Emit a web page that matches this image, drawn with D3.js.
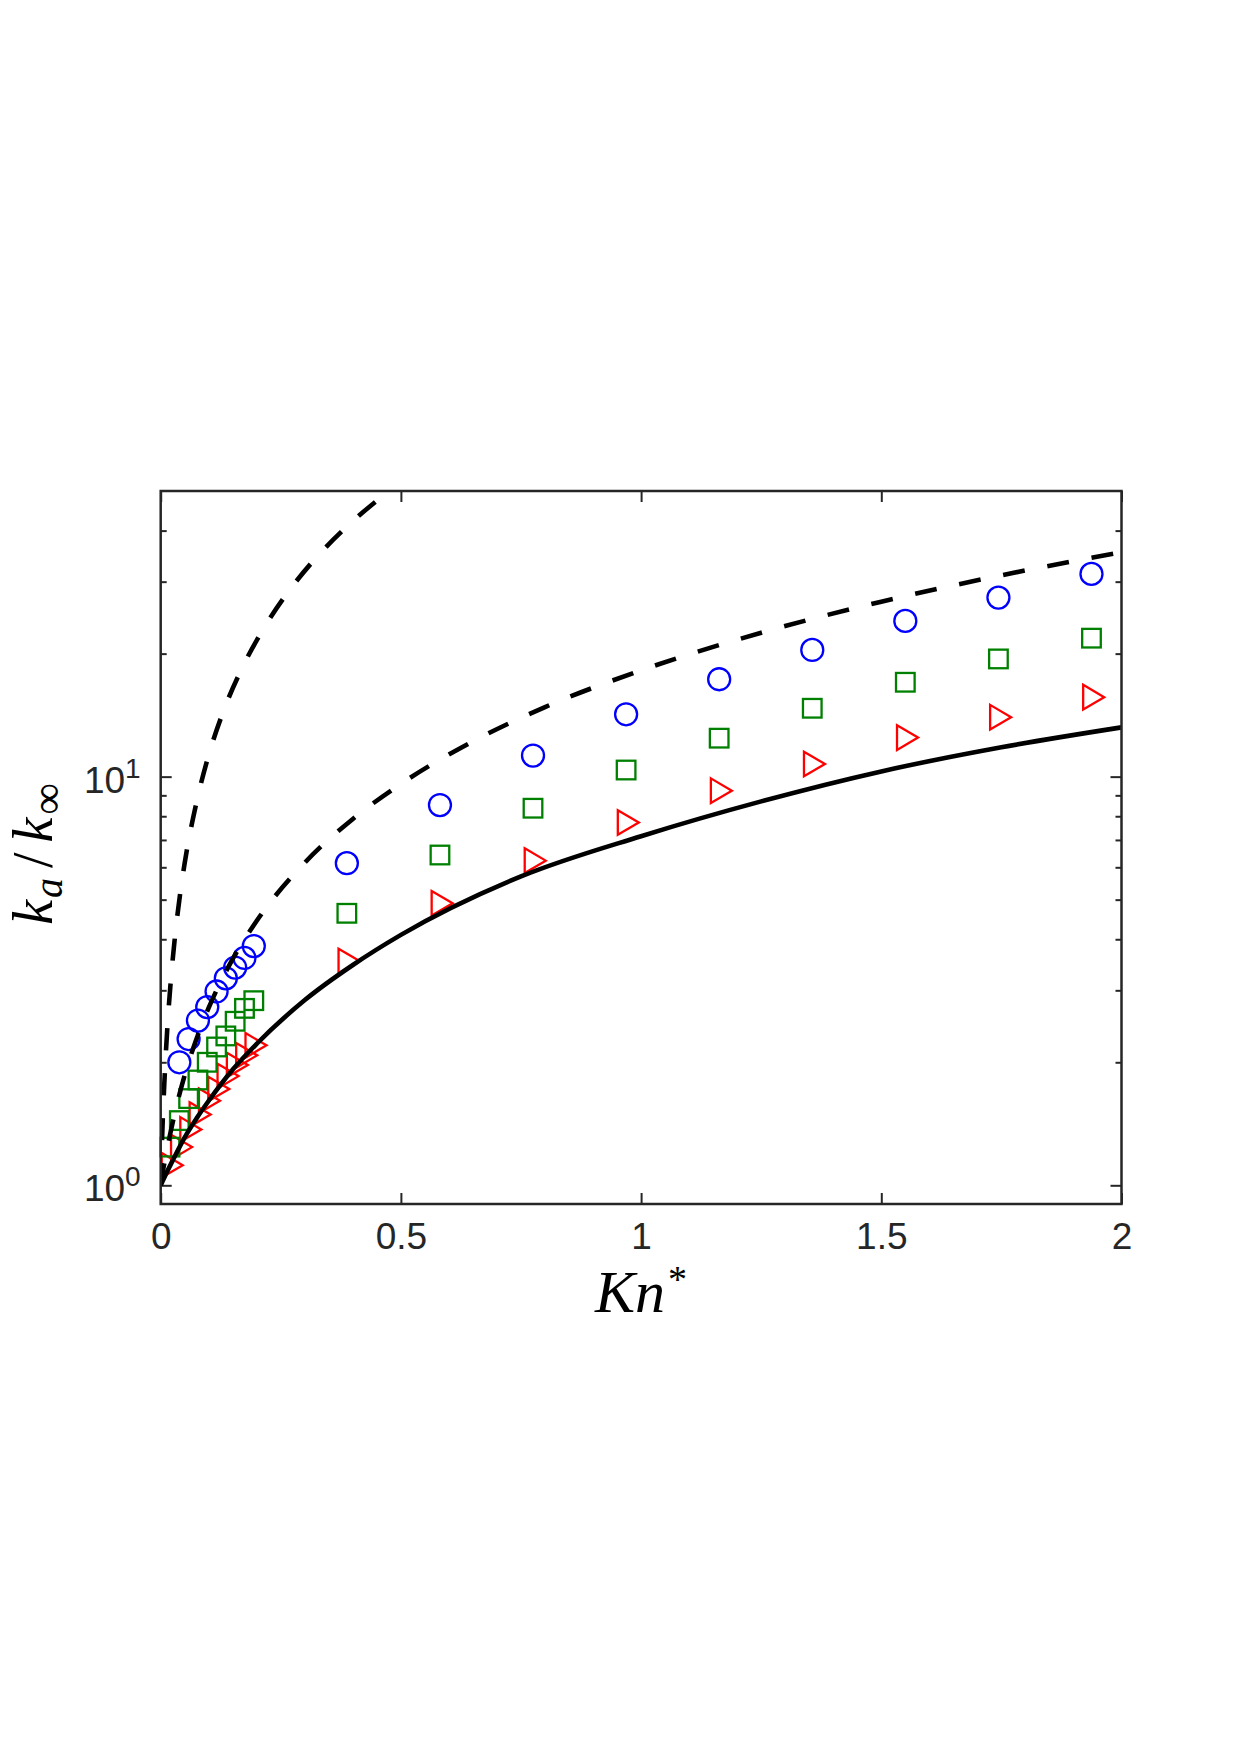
<!DOCTYPE html>
<html><head><meta charset="utf-8">
<script src="https://cdn.jsdelivr.net/npm/d3@7"></script>
<style>body{margin:0;background:#fff}</style>
</head><body><svg id="chart" width="1240" height="1755"></svg>
<script>
// ---------- data ----------
const xTicks = [0, 0.5, 1, 1.5, 2];
const xTickLabels = ["0", "0.5", "1", "1.5", "2"];
const yMajorTicks = [1, 10];
const yMajorExponents = ["0", "1"];
const yMinorTicks = [2, 3, 4, 5, 6, 7, 8, 9, 20, 30, 40];

const circleKn = [0.0388, 0.0581, 0.0775, 0.0969, 0.1163, 0.1356, 0.155, 0.1744, 0.1938,
                  0.3875, 0.5813, 0.775, 0.9688, 1.1625, 1.3563, 1.55, 1.7438, 1.9375];
const circleVal = [2.0, 2.28, 2.53, 2.73, 2.98, 3.21, 3.41, 3.6, 3.85,
                   6.14, 8.52, 11.26, 14.21, 17.31, 20.42, 24.05, 27.42, 31.34];

const squareKn = [0.0194, 0.0388, 0.0581, 0.0775, 0.0969, 0.1163, 0.1356, 0.155, 0.1744, 0.1938,
                  0.3875, 0.5813, 0.775, 0.9688, 1.1625, 1.3563, 1.55, 1.7438, 1.9375];
const squareVal = [1.24, 1.44, 1.63, 1.81, 2.0, 2.18, 2.32, 2.52, 2.71, 2.83,
                   4.63, 6.43, 8.37, 10.38, 12.42, 14.70, 17.02, 19.41, 21.82];

const triangleKn = [0.0194, 0.0388, 0.0581, 0.0775, 0.0969, 0.1163, 0.1356, 0.155, 0.1744, 0.1938,
                    0.3875, 0.5813, 0.775, 0.9688, 1.1625, 1.3563, 1.55, 1.7438, 1.9375];
const triangleVal = [1.12, 1.24, 1.37, 1.49, 1.61, 1.72, 1.85, 1.97, 2.08, 2.2,
                     3.54, 4.90, 6.23, 7.72, 9.24, 10.74, 12.46, 13.98, 15.65];

const solidKn = [0, 0.01, 0.025, 0.05, 0.075, 0.1, 0.15, 0.2, 0.3, 0.4, 0.5, 0.75, 1.0, 1.25, 1.5, 1.75, 2.0];
const solidVal = [1, 1.06, 1.15, 1.31, 1.46, 1.61, 1.92, 2.22, 2.84, 3.46, 4.1, 5.7, 7.15, 8.7, 10.3, 11.8, 13.2];

const dashAKn = [0, 0.0025, 0.005, 0.0075, 0.01, 0.015, 0.02, 0.03, 0.04, 0.05, 0.075, 0.1, 0.13, 0.17, 0.21, 0.27, 0.33, 0.4, 0.47, 0.5];
const dashAVal = [1, 1.26, 1.52, 1.77, 2.03, 2.55, 3.06, 4.09, 5.12, 6.15, 8.7, 11.3, 14.4, 18.5, 22.6, 28.8, 35.0, 42.2, 49.4, 52.5];

const dashBKn = [0, 0.005, 0.01, 0.02, 0.035, 0.05, 0.075, 0.1, 0.15, 0.2, 0.3, 0.4, 0.5, 0.65, 0.8, 1.0, 1.25, 1.5, 1.75, 2.0];
const dashBVal = [1, 1.09, 1.17, 1.34, 1.6, 1.86, 2.29, 2.72, 3.58, 4.44, 6.16, 7.88, 9.6, 12.2, 14.8, 18.2, 22.5, 26.8, 31.1, 35.4];

// ---------- layout ----------
const L = 160.7, R = 1121.5, T = 491, B = 1204;
const axisColor = "#262626";
const svg = d3.select("#chart");

const x = d3.scaleLinear().domain([0, 2]).range([L, R]);
const y = d3.scaleLog().domain([0.9, 50]).range([B, T]);

svg.append("defs").append("clipPath").attr("id", "clip")
  .append("rect").attr("x", L).attr("y", T).attr("width", R - L).attr("height", B - T);

// ---------- axes ----------
const tickFont = "'Liberation Sans', Arial, Helvetica, sans-serif";
function styleAxis(g) {
  g.select(".domain").remove();
  g.selectAll(".tick line").attr("stroke", axisColor).attr("stroke-width", 2);
}

// bottom
const gx = svg.append("g").attr("transform", `translate(0,${B})`)
  .call(d3.axisBottom(x).tickValues(xTicks).tickSizeInner(-11).tickSizeOuter(0).tickPadding(19)
    .tickFormat((d, i) => xTickLabels[i]));
styleAxis(gx);
gx.selectAll(".tick text").attr("font-family", tickFont).attr("font-size", 37).attr("fill", axisColor);

// top
const gxt = svg.append("g").attr("transform", `translate(0,${T})`)
  .call(d3.axisTop(x).tickValues(xTicks).tickSizeInner(-11).tickSizeOuter(0).tickFormat(() => ""));
styleAxis(gxt);

// left major
const gy = svg.append("g").attr("transform", `translate(${L},0)`)
  .call(d3.axisLeft(y).tickValues(yMajorTicks).tickSizeInner(-11).tickSizeOuter(0).tickFormat(() => ""));
styleAxis(gy);
gy.selectAll(".tick text").remove();
gy.selectAll(".tick").each(function(d, i) {
  const t = d3.select(this).append("text")
    .attr("x", -20).attr("y", 15.5).attr("text-anchor", "end")
    .attr("font-family", tickFont).attr("fill", axisColor);
  t.append("tspan").attr("font-size", 37).text("10");
  t.append("tspan").attr("font-size", 28).attr("dy", -15).text(yMajorExponents[i]);
});
// left minor
const gym = svg.append("g").attr("transform", `translate(${L},0)`)
  .call(d3.axisLeft(y).tickValues(yMinorTicks).tickSizeInner(-6).tickSizeOuter(0).tickFormat(() => ""));
styleAxis(gym);
// right major / minor
const gyr = svg.append("g").attr("transform", `translate(${R},0)`)
  .call(d3.axisRight(y).tickValues(yMajorTicks).tickSizeInner(-11).tickSizeOuter(0).tickFormat(() => ""));
styleAxis(gyr);
const gyrm = svg.append("g").attr("transform", `translate(${R},0)`)
  .call(d3.axisRight(y).tickValues(yMinorTicks).tickSizeInner(-6).tickSizeOuter(0).tickFormat(() => ""));
styleAxis(gyrm);

// ---------- markers ----------
const plot = svg.append("g");
const tri = triangleKn.map((k, i) => [k, triangleVal[i]]);
plot.selectAll("path.tri").data(tri).enter().append("path").attr("class", "tri")
  .attr("d", d => {
    const cx = x(d[0]), cy = y(d[1]);
    return `M${cx - 8.3},${cy - 12.3}L${cx + 12.7},${cy}L${cx - 8.3},${cy + 12.3}Z`;
  })
  .attr("fill", "none").attr("stroke", "#ff0000").attr("stroke-width", 2.3).attr("stroke-linejoin", "miter");

const sq = squareKn.map((k, i) => [k, squareVal[i]]);
plot.selectAll("rect.sq").data(sq).enter().append("rect").attr("class", "sq")
  .attr("x", d => x(d[0]) - 9.3).attr("y", d => y(d[1]) - 9.3)
  .attr("width", 18.6).attr("height", 18.6)
  .attr("fill", "none").attr("stroke", "#008000").attr("stroke-width", 2.3);

const ci = circleKn.map((k, i) => [k, circleVal[i]]);
plot.selectAll("circle.ci").data(ci).enter().append("circle").attr("class", "ci")
  .attr("cx", d => x(d[0])).attr("cy", d => y(d[1])).attr("r", 11)
  .attr("fill", "none").attr("stroke", "#0000ff").attr("stroke-width", 2.3);

// ---------- curves ----------
const line = d3.line().x(d => x(d[0])).y(d => y(d[1])).curve(d3.curveMonotoneX);
const curves = svg.append("g").attr("clip-path", "url(#clip)");
curves.append("path").datum(solidKn.map((k, i) => [k, solidVal[i]]))
  .attr("d", line).attr("fill", "none").attr("stroke", "#000").attr("stroke-width", 4.6);
curves.append("path").datum(dashAKn.map((k, i) => [k, dashAVal[i]]))
  .attr("d", line).attr("fill", "none").attr("stroke", "#000").attr("stroke-width", 4.6)
  .attr("stroke-dasharray", "22,23");
curves.append("path").datum(dashBKn.map((k, i) => [k, dashBVal[i]]))
  .attr("d", line).attr("fill", "none").attr("stroke", "#000").attr("stroke-width", 4.6)
  .attr("stroke-dasharray", "22,23");

// ---------- frame ----------
svg.append("rect").attr("x", L).attr("y", T).attr("width", R - L).attr("height", B - T)
  .attr("fill", "none").attr("stroke", axisColor).attr("stroke-width", 2.5);

// ---------- axis titles ----------
const serif = "'Liberation Serif', 'Times New Roman', serif";
const xt = svg.append("text").attr("x", (L + R) / 2).attr("y", 1312).attr("text-anchor", "middle")
  .attr("font-family", serif).attr("font-size", 60).attr("font-style", "italic").attr("fill", "#000");
xt.append("tspan").text("Kn");
xt.append("tspan").attr("font-style", "normal").attr("font-size", 38).attr("dy", -20).attr("dx", 3).text("*");

const yt = svg.append("text").attr("transform", `translate(52,854) rotate(-90)`).attr("text-anchor", "middle")
  .attr("font-family", serif).attr("font-size", 56).attr("font-style", "italic").attr("fill", "#000");
yt.append("tspan").text("k");
yt.append("tspan").attr("font-size", 40).attr("dy", 10).attr("dx", 2).text("a");
yt.append("tspan").attr("font-style", "normal").attr("dy", -10).attr("dx", 10).text("/");
yt.append("tspan").attr("dx", 10).text("k");
yt.append("tspan").attr("font-style", "normal").attr("font-size", 44).attr("dy", 10).attr("dx", 3).text("∞");
</script></body></html>
